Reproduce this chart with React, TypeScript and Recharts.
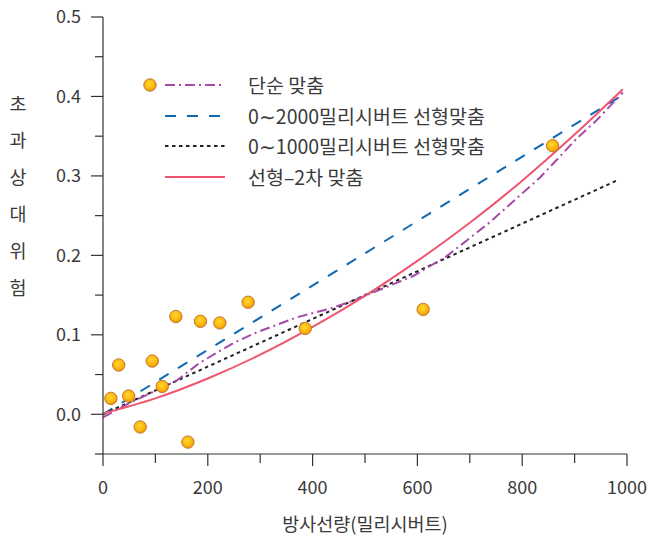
import React from "react";
import {
  ComposedChart,
  Line,
  Scatter,
  XAxis,
  YAxis,
  Legend,
} from "recharts";

// Observed points: dose (mSv) vs excess relative risk
const doseX = [15, 30, 49, 71, 94, 113, 139, 162, 186, 223, 277, 386, 611, 858];
const riskY = [0.02, 0.062, 0.023, -0.016, 0.067, 0.035, 0.123, -0.035, 0.117, 0.115, 0.141, 0.108, 0.132, 0.338];

// 단순 맞춤
const simpleFitX = [0, 50, 140, 185, 250, 293, 370, 433, 478, 522, 592, 656, 739, 834, 904, 942, 992];
const simpleFitY = [-0.004, 0.014, 0.042, 0.065, 0.09, 0.103, 0.122, 0.133, 0.143, 0.155, 0.174, 0.199, 0.242, 0.298, 0.347, 0.37, 0.405];

// 0~2000 mSv linear fit
const linear2000X = [0, 992];
const linear2000Y = [0.0, 0.402];

// 0~1000 mSv linear fit
const linear1000X = [0, 980];
const linear1000Y = [0.0, 0.294];

// linear-quadratic fit
const lqX = [0, 100, 200, 300, 400, 500, 600, 700, 800, 900, 992];
const lqY = [0.001, 0.02, 0.045, 0.075, 0.11, 0.149, 0.193, 0.241, 0.294, 0.352, 0.409];

const xTicks = [0, 100, 200, 300, 400, 500, 600, 700, 800, 900, 1000];
const yTicks = [-0.05, 0, 0.05, 0.1, 0.15, 0.2, 0.25, 0.3, 0.35, 0.4, 0.45, 0.5];

const yTitle = ["초", "과", "상", "대", "위", "험"];
const xTitle = "방사선량(밀리시버트)";

const legendLabels = [
  "단순 맞춤",
  "0∼2000밀리시버트 선형맞춤",
  "0∼1000밀리시버트 선형맞춤",
  "선형–2차 맞춤",
];

const zip = (xs: number[], ys: number[]) => xs.map((x, i) => ({ x, y: ys[i] }));

const points = zip(doseX, riskY);
const simpleFit = zip(simpleFitX, simpleFitY);
const linear2000 = zip(linear2000X, linear2000Y);
const linear1000 = zip(linear1000X, linear1000Y);
const linQuad = zip(lqX, lqY);

const FONT = '"Noto Sans CJK KR", "Noto Sans", sans-serif';
const TEXT = "#3a3a3a";
const AXIS = "#333";
const PURPLE = "#a64aa8";
const BLUE = "#0f68b2";
const BLACK = "#222";
const RED = "#ef5570";

const PURPLE_DASH = "10 4 2 4";
const BLUE_DASH = "11 11";
const BLACK_DASH = "3.5 3.5";

const Dot = ({ cx, cy }: any) => (
  <g>
    <defs>
      <radialGradient id="dotFill" cx="45%" cy="40%" r="60%">
        <stop offset="0%" stopColor="#ffd92e" />
        <stop offset="60%" stopColor="#fdb812" />
        <stop offset="100%" stopColor="#f29400" />
      </radialGradient>
    </defs>
    <circle cx={cx} cy={cy} r={6.2} fill="url(#dotFill)" stroke="#c07a30" strokeWidth={1} />
  </g>
);

const isMajorY = (v: number) => Math.abs(v * 10 - Math.round(v * 10)) < 1e-6;
const isMajorX = (v: number) => Math.round(v) % 200 === 0;

const YTick = ({ x, y, payload }: any) => {
  const major = isMajorY(payload.value);
  return (
    <g>
      <line x1={x} x2={x - (major ? 12 : 8)} y1={y} y2={y} stroke={AXIS} strokeWidth={1.2} />
      {major && (
        <text x={x - 22} y={y} dy="0.36em" textAnchor="end" fontSize={18} fill={TEXT} fontFamily={FONT}>
          {payload.value.toFixed(1)}
        </text>
      )}
    </g>
  );
};

const XTick = ({ x, y, payload }: any) => {
  const major = isMajorX(payload.value);
  return (
    <g>
      <line x1={x} x2={x} y1={y} y2={y + (major ? 12 : 9)} stroke={AXIS} strokeWidth={1.2} />
      {major && (
        <text x={x} y={y + 40} textAnchor="middle" fontSize={18} fill={TEXT} fontFamily={FONT}>
          {payload.value}
        </text>
      )}
    </g>
  );
};

const YTitle = () => (
  <text x={18} y={104} textAnchor="middle" fontSize={18.5} fill={TEXT} fontFamily={FONT}>
    {yTitle.map((c, i) => (
      <tspan key={i} x={18} dy={i === 0 ? "0.36em" : 36.8}>
        {c}
      </tspan>
    ))}
  </text>
);

const XTitle = ({ viewBox }: any) => {
  const cx = viewBox.x + viewBox.width / 2;
  return (
    <text x={cx} y={531} textAnchor="middle" fontSize={18.5} fill={TEXT} fontFamily={FONT}>
      {xTitle}
    </text>
  );
};

const LegendSymbol = ({ index }: { index: number }) => {
  const y = 15;
  if (index === 0) {
    return (
      <svg width={100} height={30}>
        <line x1={25} x2={85} y1={y} y2={y} stroke={PURPLE} strokeWidth={2} strokeDasharray={PURPLE_DASH} />
        <Dot cx={10} cy={y} />
      </svg>
    );
  }
  const style =
    index === 1
      ? { stroke: BLUE, dash: BLUE_DASH }
      : index === 2
      ? { stroke: BLACK, dash: BLACK_DASH }
      : { stroke: RED, dash: undefined };
  return (
    <svg width={100} height={30}>
      <line x1={25} x2={85} y1={y} y2={y} stroke={style.stroke} strokeWidth={2} strokeDasharray={style.dash} />
    </svg>
  );
};

const LegendBox = () => (
  <div style={{ fontFamily: FONT }}>
    {legendLabels.map((label, i) => (
      <div key={i} style={{ display: "flex", alignItems: "center", height: 30.5 }}>
        <LegendSymbol index={i} />
        <span style={{ marginLeft: 8, fontSize: 19.5, color: TEXT, whiteSpace: "nowrap", lineHeight: "30px" }}>
          {label}
        </span>
      </div>
    ))}
  </div>
);

export default function App() {
  return (
    <div style={{ position: "absolute", left: 0, top: 0, width: 649, height: 540, background: "#fff" }}>
      <ComposedChart width={649} height={540} margin={{ top: 17, right: 22, bottom: 46, left: 43 }}>
        <XAxis
          type="number"
          dataKey="x"
          domain={[0, 1000]}
          ticks={xTicks}
          interval={0}
          tickSize={0}
          tickMargin={0}
          tickLine={false}
          axisLine={{ stroke: AXIS, strokeWidth: 1.2 }}
          tick={<XTick />}
          height={40}
          allowDataOverflow
          label={<XTitle />}
        />
        <YAxis
          type="number"
          dataKey="y"
          domain={[-0.05, 0.5]}
          ticks={yTicks}
          interval={0}
          tickSize={0}
          tickMargin={0}
          tickLine={false}
          axisLine={{ stroke: AXIS, strokeWidth: 1.2 }}
          tick={<YTick />}
          width={60}
          allowDataOverflow
          label={<YTitle />}
        />
        <Legend
          layout="vertical"
          align="center"
          verticalAlign="middle"
          wrapperStyle={{ position: "absolute", left: 140, top: 70, width: 380 }}
          content={<LegendBox />}
        />
        <Line
          data={linear2000}
          dataKey="y"
          type="linear"
          stroke={BLUE}
          strokeWidth={2}
          strokeDasharray={BLUE_DASH}
          dot={false}
          activeDot={false}
          isAnimationActive={false}
        />
        <Line
          data={linear1000}
          dataKey="y"
          type="linear"
          stroke={BLACK}
          strokeWidth={2}
          strokeDasharray={BLACK_DASH}
          dot={false}
          activeDot={false}
          isAnimationActive={false}
        />
        <Line
          data={simpleFit}
          dataKey="y"
          type="linear"
          stroke={PURPLE}
          strokeWidth={2}
          strokeDasharray={PURPLE_DASH}
          dot={false}
          activeDot={false}
          isAnimationActive={false}
        />
        <Line
          data={linQuad}
          dataKey="y"
          type="monotone"
          stroke={RED}
          strokeWidth={2}
          dot={false}
          activeDot={false}
          isAnimationActive={false}
        />
        <Scatter data={points} dataKey="y" shape={<Dot />} isAnimationActive={false} />
      </ComposedChart>
    </div>
  );
}
